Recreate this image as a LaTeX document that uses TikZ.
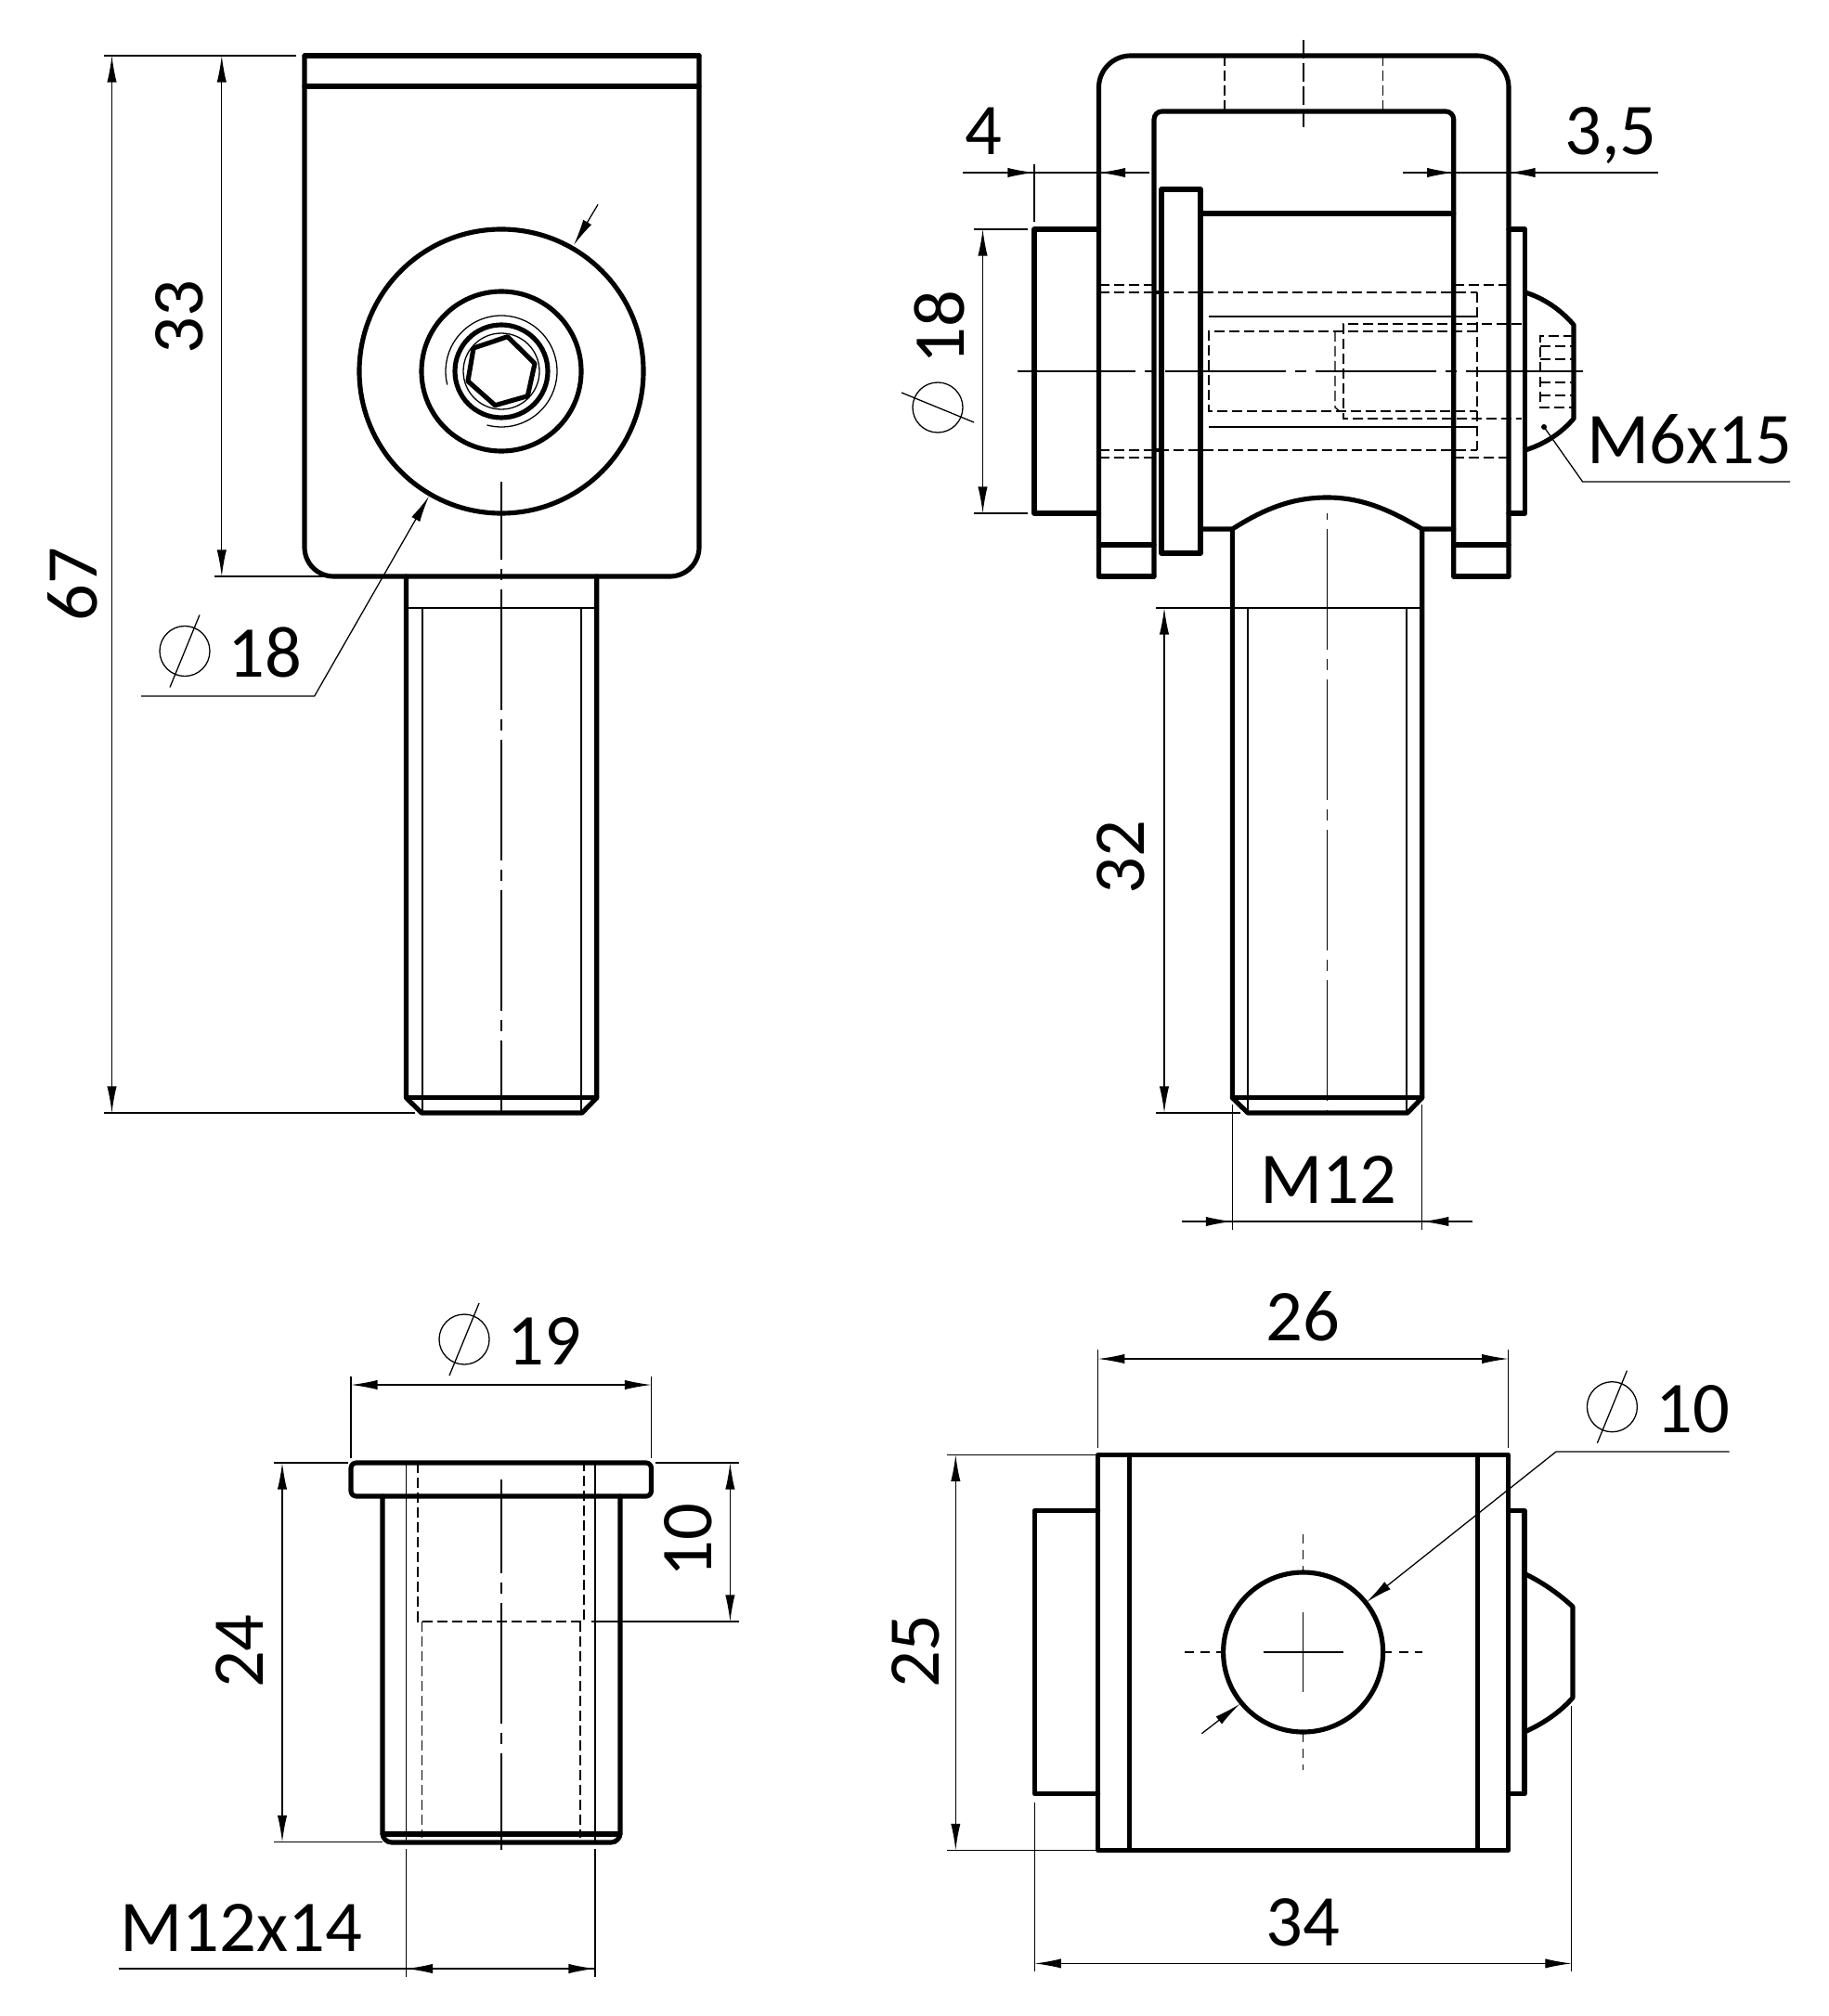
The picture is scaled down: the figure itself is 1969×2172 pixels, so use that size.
\documentclass[tikz,border=0pt]{standalone}
\usepackage{fontspec}
\setmainfont{Carlito}
\usetikzlibrary{arrows.meta}

\begin{document}
\begin{tikzpicture}[
      x=0.35pt,y=-0.35pt,
      >={Latex[length=10pt,width=3.6pt]},
      thickline/.style={draw,line width=1.8pt,line join=round,line cap=round},
      thinline/.style={draw,line width=0.45pt},
      dimline/.style={thinline},
      hiddenline/.style={thinline,dash pattern=on 3.9pt off 1.7pt},
      centerline/.style={thinline,dash pattern=on 45.5pt off 3.5pt on 4.2pt off 3.5pt},
      crossline/.style={thinline,dash pattern=on 3.5pt off 2.5pt},
      dimtext/.style={inner sep=0pt,text depth=0pt,font=\fontsize{27.5}{30}\selectfont},
      phimark/.pic={
        \draw[thinline] (0,0) circle (27);
        \draw[thinline] (16,-39) -- (-16,39);
      },
    ]
      \useasboundingbox (0,0) rectangle (1969,2172);

      % top left view
      \draw[thickline,rounded corners=11pt] (328,60) -- (328,621) -- (753,621) -- (753,60);
      \draw[thickline] (328,60) -- (753,60);
      \draw[thickline] (328,93) -- (753,93);
      \draw[thickline] (540,400) circle (153);
      \draw[thickline] (540,400) circle (86);
      \draw[thickline] (540,400) circle (50);
      \draw[thinline] (540,400) circle (41);
      \draw[thinline] (540,400) ++(-194:60) arc (-194:105:60);
      \draw[thickline] (546.7,362.7) -- (576,391.7) -- (568.3,426.7) -- (533.3,436.7)
        -- (504,410.7) -- (510,375) -- cycle;
      \draw[thickline] (437.5,621) -- (437.5,1182.7) -- (454,1199) -- (627,1199)
        -- (642.7,1182.7) -- (642.7,621);
      \draw[thickline] (437.5,1182.7) -- (642.7,1182.7);
      \draw[thinline] (437.5,655) -- (642.7,655);
      \draw[thinline] (455,655) -- (455,1199);
      \draw[thinline] (626,655) -- (626,1199);
      \draw[centerline,dash phase=16pt] (540,519) -- (540,1199);

      \draw[thinline] (112,60) -- (319,60);
      \draw[thinline] (112,1199) -- (447,1199);
      \draw[thinline] (231,621) -- (350,621);
      \draw[dimline,<->] (120.5,60) -- (120.5,1199);
      \draw[dimline,<->] (238.8,60) -- (238.8,621);
      \draw[dimline,<-] (462,534.7) -- (338.7,750) -- (152,750);
      \draw[dimline,->] (644,220.4) -- (618,264);
      \node[dimtext,rotate=90] (len67) at (78,630) {67};
      \node[dimtext,rotate=90] (len33) at (193.5,342) {33};
      \pic at (199,701.5) {phimark};
      \node[dimtext] (dia18a) at (285.6,703) {18};

      % top right view
      \draw[thickline,rounded corners=12pt] (1183.5,621) -- (1183.5,60) -- (1625,60) -- (1625,621);
      \draw[thickline,rounded corners=3pt] (1243,621) -- (1243,120) -- (1565.7,120) -- (1565.7,621);
      \draw[thickline] (1183.5,621) -- (1243,621);
      \draw[thickline] (1565.7,621) -- (1625,621);
      \draw[thickline] (1183.5,587) -- (1243,587);
      \draw[thickline] (1565.7,587) -- (1625,587);
      \draw[thickline] (1251,204) rectangle (1293,596);
      \draw[thickline] (1293,230) -- (1565.7,230);
      \draw[thickline] (1293,570) -- (1327.3,570) .. controls (1365,546) and (1395,536) .. (1429.5,536)
        .. controls (1465,536) and (1495,548) .. (1531.7,570) -- (1565.7,570);
      \draw[thickline] (1327.3,570) -- (1327.3,1182.7) -- (1344,1199) -- (1516,1199)
        -- (1531.7,1182.7) -- (1531.7,570);
      \draw[thickline] (1327.3,1182.7) -- (1531.7,1182.7);
      \draw[thinline] (1245,655) -- (1531.7,655);
      \draw[thinline] (1344,655) -- (1344,1199);
      \draw[thinline] (1515,655) -- (1515,1199);
      \draw[centerline,dash phase=50.75pt] (1429.5,553) -- (1429.5,1199);
      \draw[thickline] (1183.5,247) -- (1114,247) -- (1114,553) -- (1183.5,553);
      \draw[thickline] (1625,247) -- (1642.7,247) -- (1642.7,553) -- (1625,553);
      \draw[thickline] (1642.7,315) .. controls (1665,322) and (1682,335) .. (1695,350) -- (1695,451)
        .. controls (1682,466) and (1665,478) .. (1642.7,485);
      \draw[hiddenline] (1319,60) -- (1319,120);
      \draw[hiddenline] (1489.5,60) -- (1489.5,120);
      \draw[thinline,dash pattern=on 7pt off 1.8pt] (1404,43) -- (1404,137);
      \foreach \ya/\yb in {307/315,493/485}{
        \draw[hiddenline] (1183.5,\ya) -- (1243,\ya);
        \draw[hiddenline] (1565.7,\ya) -- (1625,\ya);
        \draw[hiddenline] (1183.5,\yb) -- (1591,\yb);
        \draw[line width=1.2pt] (1243,\yb) -- (1251,\yb);
      }
      \draw[hiddenline] (1591,315) -- (1591,485);
      \draw[thinline] (1302,341) -- (1591,341);
      \draw[thinline] (1302,460) -- (1591,460);
      \draw[hiddenline] (1591,357) -- (1302,357) -- (1302,443) -- (1591,443);
      \draw[hiddenline] (1438,357) -- (1438,439) -- (1443,443);
      \draw[hiddenline] (1639,349) -- (1447,349) -- (1447,451) -- (1639,451);
      \draw[hiddenline] (1695,362) -- (1659,362) -- (1659,439) -- (1695,439);
      \foreach \yc in {373,387,412,426}{
        \draw[hiddenline] (1659,\yc) -- (1695,\yc);
      }
      \draw[centerline,dash phase=1pt] (1096,400) -- (1705,400);

      \draw[thinline] (1037,186) -- (1238,186);
      \draw[dimline,->] (1080,186) -- (1114,186);
      \draw[dimline,->] (1217,186) -- (1183.5,186);
      \draw[thinline] (1114,177) -- (1114,239);
      \node[dimtext] (wid4) at (1059,141) {4};
      \draw[thinline] (1511,186) -- (1786,186);
      \draw[dimline,->] (1530,186) -- (1565.7,186);
      \draw[dimline,->] (1660,186) -- (1625,186);
      \node[dimtext] (wid35) at (1735,141) {3,5};
      \draw[thinline] (1049,247) -- (1107,247);
      \draw[thinline] (1049,553) -- (1107,553);
      \draw[dimline,<->] (1058.5,247) -- (1058.5,553);
      \node[dimtext,rotate=90] (dia18b) at (1012,353) {18};
      \pic[rotate=90] at (1010,439) {phimark};
      \fill (1663,460) circle (3);
      \draw[thinline] (1663,460) -- (1704.6,519) -- (1928,519);
      \node[dimtext] (screw) at (1820,473) {M6x15};
      \draw[thinline] (1245,1199) -- (1336,1199);
      \draw[dimline,<->] (1254,655) -- (1254,1199);
      \node[dimtext,rotate=90] (len32) at (1207,924) {32};
      \draw[thinline] (1327.3,1190) -- (1327.3,1325);
      \draw[thinline] (1531.7,1190) -- (1531.7,1325);
      \draw[thinline] (1273,1316) -- (1586,1316);
      \draw[dimline,->] (1285,1316) -- (1327.3,1316);
      \draw[dimline,->] (1575,1316) -- (1531.7,1316);
      \node[dimtext] (thread) at (1431,1271) {M12};

      % bottom left view
      \draw[thickline,rounded corners=2pt] (378,1576) rectangle (701.5,1612);
      \draw[thickline,rounded corners=3.5pt] (412,1612) -- (412,1985) -- (668,1985) -- (668,1612);
      \draw[thickline] (412,1976) -- (668,1976);
      \draw[thinline] (437.5,1576) -- (437.5,1984);
      \draw[thinline] (641,1576) -- (641,1984);
      \draw[hiddenline] (450,1576) -- (450,1747) -- (629,1747) -- (629,1576);
      \draw[hiddenline] (454.5,1747) -- (454.5,1980);
      \draw[hiddenline] (625,1747) -- (625,1980);
      \draw[centerline,dash phase=10pt] (540,1593.5) -- (540,1993);

      \draw[thinline] (378,1483) -- (378,1571);
      \draw[thinline] (701.5,1483) -- (701.5,1571);
      \draw[dimline,<->] (378,1492) -- (701.5,1492);
      \pic at (500,1443) {phimark};
      \node[dimtext] (dia19) at (586,1445) {19};
      \draw[thinline] (295,1576) -- (374.5,1576);
      \draw[thinline] (295,1984.5) -- (412,1984.5);
      \draw[dimline,<->] (304,1576) -- (304,1984.5);
      \node[dimtext,rotate=90] (len24) at (258.4,1779) {24};
      \draw[thinline] (706,1576) -- (795.5,1576);
      \draw[thinline] (637,1747) -- (795.5,1747);
      \draw[dimline,<->] (786.4,1576) -- (786.4,1747);
      \node[dimtext,rotate=90] (len10) at (741.4,1659.5) {10};
      \draw[thinline] (437.5,1992) -- (437.5,2130);
      \draw[thinline] (641,1992) -- (641,2130);
      \draw[thinline] (127.5,2121) -- (641,2121);
      \draw[dimline,<->] (437.5,2121) -- (641,2121);
      \node[dimtext] (bush) at (260,2077) {M12x14};

      % bottom right view
      \draw[thickline] (1182.7,1567.4) rectangle (1624.6,1993.3);
      \draw[thickline] (1216.5,1567.4) -- (1216.5,1993.3);
      \draw[thickline] (1591.5,1567.4) -- (1591.5,1993.3);
      \draw[thickline] (1182.7,1627.5) -- (1114.4,1627.5) -- (1114.4,1932.7) -- (1182.7,1932.7);
      \draw[thickline] (1624.6,1627.5) -- (1642,1627.5) -- (1642,1932.7) -- (1624.6,1932.7);
      \draw[thickline] (1642,1695.4) .. controls (1662,1705) and (1680,1718) .. (1694,1731) -- (1694,1829)
        .. controls (1680,1845) and (1662,1857) .. (1642,1866);
      \draw[thickline] (1403.6,1780) circle (86);
      \draw[thinline] (1403.6,1737) -- (1403.6,1823);
      \draw[thinline] (1360.7,1780) -- (1447,1780);
      \draw[crossline] (1403.6,1652.6) -- (1403.6,1694);
      \draw[crossline] (1403.6,1867) -- (1403.6,1907);
      \draw[crossline] (1276,1780) -- (1318,1780);
      \draw[crossline] (1489.4,1780) -- (1531.7,1780);

      \draw[thinline] (1182.7,1454) -- (1182.7,1560);
      \draw[thinline] (1624.6,1454) -- (1624.6,1560);
      \draw[dimline,<->] (1182.7,1464) -- (1624.6,1464);
      \node[dimtext] (wid26) at (1403,1418) {26};
      \draw[thinline] (1020,1567.4) -- (1182.7,1567.4);
      \draw[thinline] (1020,1993.3) -- (1182.7,1993.3);
      \draw[dimline,<->] (1029.3,1567.4) -- (1029.3,1993.3);
      \node[dimtext,rotate=90] (len25) at (985.7,1779) {25};
      \draw[thinline] (1114.4,1941.6) -- (1114.4,2124);
      \draw[thinline] (1692.8,1838) -- (1692.8,2124);
      \draw[dimline,<->] (1114.4,2115.4) -- (1692.8,2115.4);
      \node[dimtext] (wid34) at (1403.6,2070.6) {34};
      \draw[dimline,<-] (1472,1726) -- (1676,1564) -- (1862.5,1564);
      \draw[dimline,->] (1294.4,1867.7) -- (1335.4,1835.8);
      \pic at (1736.4,1515.7) {phimark};
      \node[dimtext] (dia10) at (1823,1518) {10};
    \end{tikzpicture}
\end{document}
